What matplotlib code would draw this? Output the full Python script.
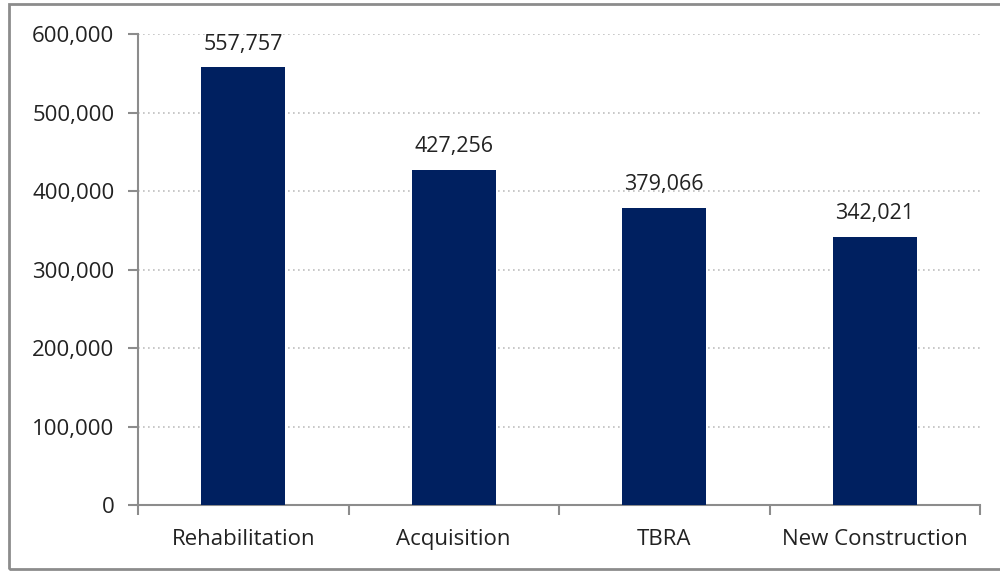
import matplotlib
matplotlib.use("Agg")
import matplotlib.pyplot as plt
from matplotlib.patches import Rectangle
from matplotlib.ticker import FuncFormatter, FixedLocator

categories = ["Rehabilitation", "Acquisition", "TBRA", "New Construction"]
values = [557757, 427256, 379066, 342021]
yticks = [0, 100000, 200000, 300000, 400000, 500000, 600000]

plt.rcParams['font.family'] = ['Open Sans', 'DejaVu Sans']

fig = plt.figure(figsize=(10, 5.72), dpi=100)
ax = fig.add_axes([0.138, 0.117, 0.842, 0.8234])

# outer frame like the Excel chart area
fig.patches.append(Rectangle((0.009, 0.005), 1.2, 0.988, transform=fig.transFigure,
                             fill=False, edgecolor="#8c8c8c", linewidth=2))

x = list(range(len(categories)))
ax.bar(x, values, width=0.4, color="#002060", zorder=3)

for xi, v in zip(x, values):
    ax.text(xi, v + 16000, f"{v:,}", ha="center", va="bottom", fontsize=15.5, color="#222222")

ax.set_xlim(-0.5, len(categories) - 0.5)
ax.set_ylim(0, 600000)
ax.set_yticks(yticks)
ax.yaxis.set_major_formatter(FuncFormatter(lambda v, p: f"{int(v):,}"))
ax.set_xticks(x)
ax.set_xticklabels(categories)
ax.xaxis.set_minor_locator(FixedLocator([i - 0.5 for i in range(len(categories) + 1)]))

ax.grid(axis="y", linestyle=(0, (1, 2)), color="#bfbfbf", linewidth=1.2, zorder=0)
ax.tick_params(axis="y", which="major", direction="out", length=7, width=1.5,
               color="#8c8c8c", labelsize=16, labelcolor="#222222", pad=10)
ax.tick_params(axis="x", which="major", length=0, labelsize=16, labelcolor="#222222", pad=17)
ax.tick_params(axis="x", which="minor", direction="out", length=7, width=1.5, color="#8c8c8c")

for s in ["top", "right"]:
    ax.spines[s].set_visible(False)
for s in ["left", "bottom"]:
    ax.spines[s].set_color("#8c8c8c")
    ax.spines[s].set_linewidth(1.5)

fig.savefig("out.png", dpi=100)
